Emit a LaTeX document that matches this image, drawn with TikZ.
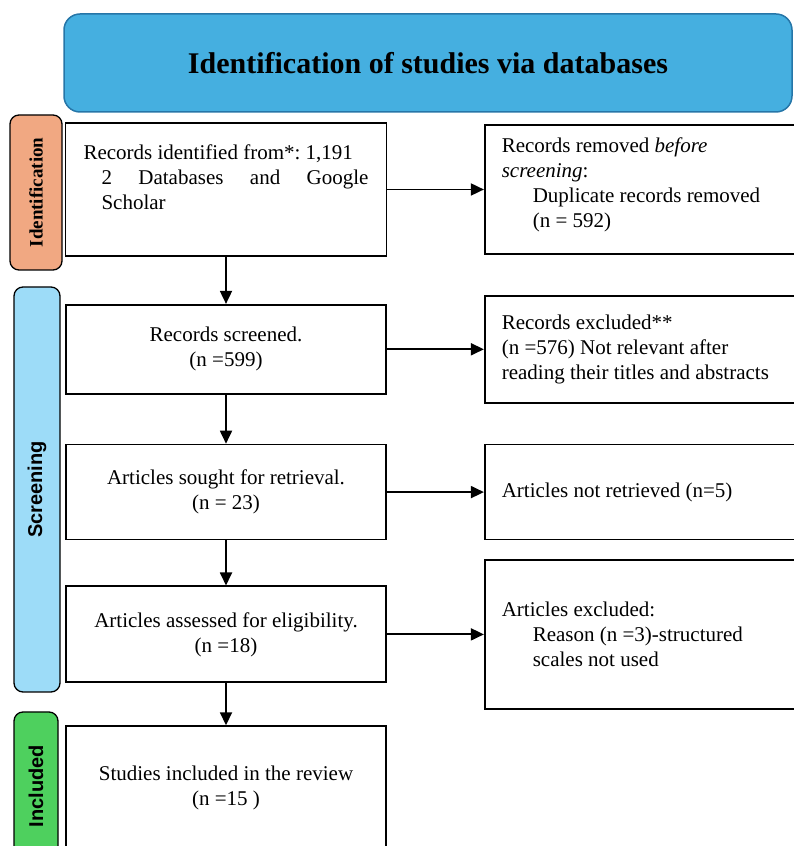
\documentclass[tikz,border=0pt]{standalone}
\usepackage{fontspec}
\setmainfont{Liberation Serif}
\newfontfamily\sidesans{Liberation Sans}
\usepackage{tikz}
\usetikzlibrary{arrows.meta, positioning}

\definecolor{bannerblue}{RGB}{69,175,224}
\definecolor{bannerline}{RGB}{38,118,168}
\definecolor{idsalmon}{RGB}{241,168,130}
\definecolor{screenblue}{RGB}{157,220,248}
\definecolor{inclgreen}{RGB}{78,208,94}
\newcommand{\bodysize}{\fontsize{21pt}{25pt}\selectfont\frenchspacing}

\begin{document}
\begin{tikzpicture}[x=1pt, y=1pt,
    box/.style={draw, line width=1.8pt, rectangle, align=center, minimum width=320pt, font=\bodysize},
    notebox/.style={draw, line width=1.8pt, rectangle, align=flush left, text width=276pt, inner xsep=17pt, font=\bodysize},
    sidebox/.style={draw, line width=1.3pt, rectangle, rounded corners=9pt, rotate=90, inner sep=0pt},
    arrow/.style={-{Triangle[length=13pt,width=12pt]}, line width=1.8pt}]
    \useasboundingbox (0,0) rectangle (793,846);

    % banner and phase labels
    \node[draw=bannerline, fill=bannerblue, rounded corners=16pt, line width=1.5pt, minimum width=728pt, minimum height=98pt, font=\fontsize{30pt}{34pt}\selectfont\bfseries] (banner) at (428,783) {Identification of studies via databases};
    \node[sidebox, fill=idsalmon, minimum width=155pt, minimum height=52pt, font=\fontsize{19pt}{22pt}\selectfont\bfseries] (ident) at (36,653.5) {Identification};
    \node[sidebox, fill=screenblue, minimum width=405pt, minimum height=46pt, font=\sidesans\fontsize{20pt}{24pt}\selectfont\bfseries] (screen) at (37,356.5) {Screening};
    \node[sidebox, fill=inclgreen, minimum width=148pt, minimum height=44pt, font=\sidesans\fontsize{20pt}{24pt}\selectfont\bfseries] (incl) at (36,60) {Included};

    % main column
    \node[box, align=flush left, text width=285pt, inner xsep=18pt, minimum height=133pt] (records) at (226,656.5)
        {Records identified from*: 1,191\\
         \hspace*{18pt}\makebox[267pt][l]{2\hfill Databases\hfill and\hfill Google}\\
         \hspace*{18pt}Scholar\\ \mbox{}};
    \node[box, minimum height=89pt, below=47pt of records] (screened) {Records screened.\\(n =599)};
    \node[box, minimum height=95pt, below=49pt of screened] (sought) {Articles sought for retrieval.\\(n = 23)};
    \node[box, minimum height=96pt, below=45pt of sought] (assessed) {Articles assessed for eligibility.\\(n =18)};
    \node[box, minimum height=124pt, below=42pt of assessed] (included) {Studies included in the review\\(n =15 )};

    % side boxes
    \node[notebox, minimum height=129pt, right=96.5pt of records] (removed)
        {Records removed \textit{before}\\ \textit{screening}:\\
         \hspace*{31pt}Duplicate records removed\\ \hspace*{31pt}(n = 592)\\[-11pt] \mbox{}};
    \node[notebox, minimum height=107pt, right=97pt of screened] (excluded)
        {Records excluded**\\(n =576) Not relevant after\\reading their titles and abstracts};
    \node[notebox, minimum height=95pt, right=97pt of sought] (notretr) {Articles not retrieved (n=5)};
    \node[notebox, minimum height=149pt, right=97pt of assessed] (artexcl)
        {Articles excluded:\\ \hspace*{31pt}Reason (n =3)-structured\\ \hspace*{31pt}scales not used};

    \draw[arrow] (records) -- (removed);
    \draw[arrow] (screened) -- (excluded);
    \draw[arrow] (sought) -- (notretr);
    \draw[arrow] (assessed) -- (artexcl);
    \draw[arrow] (records) -- (screened);
    \draw[arrow] (screened) -- (sought);
    \draw[arrow] (sought) -- (assessed);
    \draw[arrow] (assessed) -- (included);
\end{tikzpicture}
\end{document}
